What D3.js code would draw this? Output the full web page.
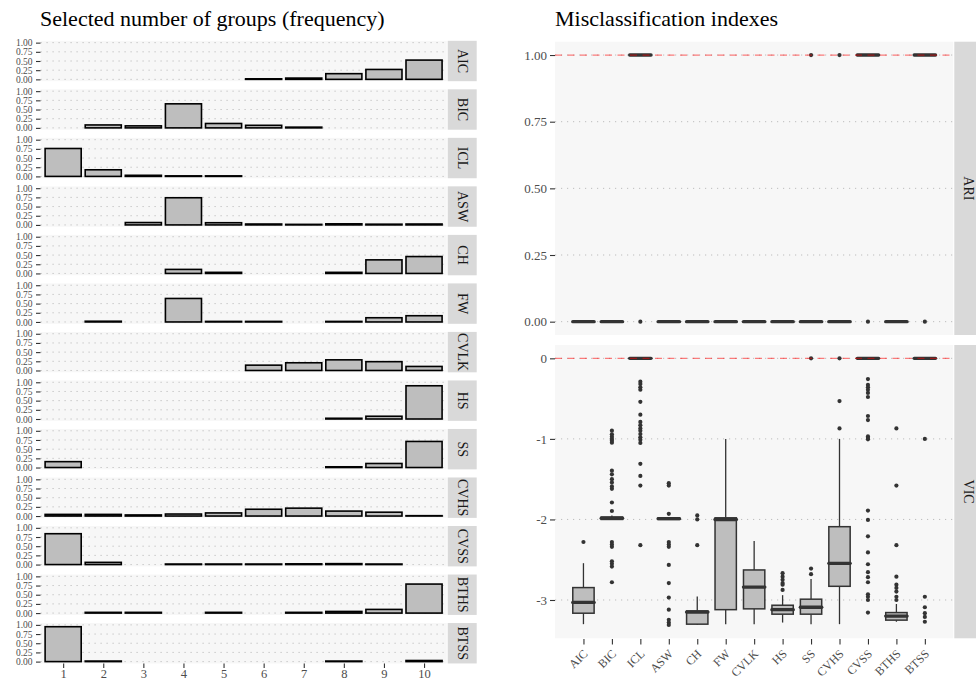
<!DOCTYPE html>
<html><head><meta charset="utf-8">
<script src="https://cdn.jsdelivr.net/npm/d3@7"></script>
<style>
body{margin:0;background:#fff;}
svg{display:block;}
text{font-family:"Liberation Serif","Times New Roman",serif;}
</style>
</head><body>
<svg id="c" width="976" height="681" font-family="Liberation Serif, Times New Roman, serif"></svg>
<script>
// ---------------- DATA ----------------
const methods = ["AIC","BIC","ICL","ASW","CH","FW","CVLK","HS","SS","CVHS","CVSS","BTHS","BTSS"];
const groups = ["1","2","3","4","5","6","7","8","9","10"];

// frequency of selected number of groups (null = no bar)
const freqAIC  = [null,null,null,null,null,0.015,0.035,0.155,0.27,0.525];
const freqBIC  = [null,0.08,0.055,0.655,0.12,0.07,0.02,null,null,null];
const freqICL  = [0.76,0.18,0.03,0.015,0.015,null,null,null,null,null];
const freqASW  = [null,null,0.065,0.74,0.06,0.025,0.015,0.03,0.02,0.025];
const freqCH   = [null,null,null,0.11,0.03,null,null,0.03,0.37,0.46];
const freqFW   = [null,0.02,null,0.64,0.015,0.015,null,0.015,0.115,0.17];
const freqCVLK = [null,null,null,null,null,0.145,0.21,0.29,0.24,0.11];
const freqHS   = [null,null,null,null,null,null,null,0.02,0.075,0.905];
const freqSS   = [0.16,null,null,null,null,null,null,0.02,0.11,0.71];
const freqCVHS = [0.045,0.045,0.03,0.055,0.085,0.185,0.215,0.135,0.105,0.01];
const freqCVSS = [0.84,0.06,null,0.015,0.015,0.015,0.02,0.025,0.015,null];
const freqBTHS = [null,0.02,0.02,null,0.02,null,0.02,0.045,0.1,0.79];
const freqBTSS = [0.95,0.015,null,null,null,null,null,0.015,null,0.03];

// ARI boxplot statistics
const ariLow  = [0,0,1,0,0,0,0,0,0,0,1,0,1];
const ariQ1   = [0,0,1,0,0,0,0,0,0,0,1,0,1];
const ariMed  = [0,0,1,0,0,0,0,0,0,0,1,0,1];
const ariQ3   = [0,0,1,0,0,0,0,0,0,0,1,0,1];
const ariHigh = [0,0,1,0,0,0,0,0,0,0,1,0,1];
const ariOut  = [[],[],[0],[],[],[],[],[],[1],[1],[0],[],[0]];

// VIC boxplot statistics
const vicLow  = [-3.30,-2.00,0,-2.00,-3.31,-3.30,-3.30,-3.28,-3.30,-3.30,0,-3.27,0];
const vicQ1   = [-3.164,-2.00,0,-2.00,-3.30,-3.12,-3.11,-3.176,-3.176,-2.83,0,-3.25,0];
const vicMed  = [-3.03,-1.985,0,-1.99,-3.15,-2.00,-2.84,-3.12,-3.09,-2.545,0,-3.20,0];
const vicQ3   = [-2.846,-1.97,0,-1.98,-3.135,-1.98,-2.627,-3.065,-2.99,-2.09,0,-3.156,0];
const vicHigh = [-2.543,-1.95,0,-1.97,-2.957,-1.00,-2.267,-2.94,-2.74,-1.00,0,-3.05,0];
const vicOut  = [
  [-2.28],
  [-0.898,-0.943,-0.972,-1.0,-1.022,-1.047,-1.394,-1.44,-1.50,-1.54,-1.59,-1.62,-1.79,-1.895,-2.28,-2.31,-2.34,-2.52,-2.55,-2.585,-2.78],
  [-0.29,-0.32,-0.36,-0.39,-0.54,-0.70,-0.79,-0.83,-0.87,-0.90,-0.94,-0.98,-1.01,-1.05,-1.31,-1.46,-1.58,-2.32],
  [-1.55,-1.58,-1.93,-2.28,-2.31,-2.34,-2.565,-2.79,-2.97,-3.12,-3.245,-3.28,-3.31],
  [-1.95,-2.0,-2.32],
  [],
  [],
  [-2.667,-2.71,-2.75,-2.79,-2.81,-2.875],
  [0,-2.61,-2.68],
  [0,-0.53,-0.87],
  [-0.257,-0.33,-0.36,-0.39,-0.43,-0.48,-0.716,-0.766,-0.97,-0.99,-1.005,-1.89,-2.006,-2.21,-2.41,-2.556,-2.655,-2.717,-2.78,-2.93,-2.96,-3.0,-3.156],
  [-0.87,-1.58,-2.32,-2.71,-2.81,-2.85,-2.895,-2.96,-3.0],
  [-1.0,-2.96,-3.09,-3.164,-3.21,-3.27]
];

const freqTicks = [0,0.25,0.5,0.75,1];
const ariTicks = [0,0.25,0.5,0.75,1];
const vicTicks = [0,-1,-2,-3];
const ariRef = 1;
const vicRef = 0;
const titleLeft = "Selected number of groups (frequency)";
const titleRight = "Misclassification indexes";

// ---------------- DRAW ----------------
const FONT = '"Liberation Serif","Times New Roman",serif';
const svg = d3.select("#c");
const freqs = [freqAIC,freqBIC,freqICL,freqASW,freqCH,freqFW,freqCVLK,freqHS,freqSS,freqCVHS,freqCVSS,freqBTHS,freqBTSS];

const PANEL_BG = "#f7f7f7", STRIP_BG = "#d9d9d9", GRID = "#bdbdbd", TICKC = "#4d4d4d";
const BOX_FILL = "#bebebe";

function styleAxis(g, fs){
  g.attr("font-family", null);
  g.select(".domain").remove();
  g.selectAll(".tick line").attr("stroke","#333").attr("stroke-width",1.1);
  g.selectAll(".tick text").attr("fill",TICKC).style("font-size",fs+"px").style("font-family",FONT);
}

// ---- Left: facets ----
const LX0 = 40.5, LX1 = 446.7, LSX = 447.7, SW = 29;
const PTOP = 40.8, PSTEP = 48.52, PH = 40.4;
const xL = d3.scalePoint().domain(groups).range([LX0, LX1]).padding(0.565);
const stepL = xL.step();

svg.append("text").attr("x", 40).attr("y", 26).style("font-size","22px").style("font-family",FONT)
  .attr("fill","#000").text(titleLeft);

methods.forEach((m, i) => {
  const top = PTOP + i*PSTEP;
  const y = d3.scaleLinear().domain([-0.05, 1.05]).range([top+PH, top]);
  const g = svg.append("g");
  g.append("rect").attr("x",LX0).attr("y",top).attr("width",LX1-LX0).attr("height",PH).attr("fill",PANEL_BG);
  g.selectAll("line.grid").data(freqTicks).join("line").attr("class","grid")
    .attr("x1",LX0).attr("x2",LX1).attr("y1",d=>y(d)).attr("y2",d=>y(d))
    .attr("stroke",GRID).attr("stroke-width",1).attr("stroke-dasharray","1.2,4.8");
  const bars = freqs[i].map((v,j)=>({g:groups[j], v})).filter(d=>d.v!=null);
  g.selectAll("rect.bar").data(bars).join("rect").attr("class","bar")
    .attr("x",d=>xL(d.g)-0.45*stepL).attr("width",0.9*stepL)
    .attr("y",d=>y(d.v)).attr("height",d=>y(0)-y(d.v))
    .attr("fill",BOX_FILL).attr("stroke","#000").attr("stroke-width",1.6);
  const ax = g.append("g").attr("transform",`translate(${LX0},0)`)
    .call(d3.axisLeft(y).tickValues(freqTicks).tickFormat(d3.format(".2f")).tickSize(4.5).tickPadding(3.5));
  styleAxis(ax, 9.5);
  g.append("rect").attr("x",LSX).attr("y",top).attr("width",SW).attr("height",PH).attr("fill",STRIP_BG);
  g.append("text").attr("transform",`translate(${LSX+SW/2},${top+PH/2}) rotate(90)`)
    .attr("text-anchor","middle").attr("dominant-baseline","central").style("font-family",FONT)
    .style("font-size","14px").attr("fill","#1a1a1a").text(m);
  if (i === methods.length-1){
    const bx = g.append("g").attr("transform",`translate(0,${top+PH})`)
      .call(d3.axisBottom(xL).tickSize(4.5).tickPadding(1.5));
    styleAxis(bx, 12.5);
  }
});

// ---- Right: boxplots ----
const RX0 = 555, RX1 = 953.3, RSX = 954.3;
svg.append("text").attr("x", 555).attr("y", 26).style("font-size","22px").style("font-family",FONT)
  .attr("fill","#000").text(titleRight);
const xR = d3.scalePoint().domain(methods).range([RX0, RX1]).padding(1);
const bw = 0.75 * xR.step();

function boxPanel(top, bottom, label, low, q1, med, q3, high, outs, ticks, fmt, ref, isBottom){
  const allVals = [].concat(low, high, ...outs);
  const ext = d3.extent(allVals);
  const pad = (ext[1]-ext[0])*0.05;
  const y = d3.scaleLinear().domain([ext[0]-pad, ext[1]+pad]).range([bottom, top]);
  const g = svg.append("g");
  g.append("rect").attr("x",RX0).attr("y",top).attr("width",RX1-RX0).attr("height",bottom-top).attr("fill",PANEL_BG);
  g.selectAll("line.grid").data(ticks).join("line").attr("class","grid")
    .attr("x1",RX0).attr("x2",RX1).attr("y1",d=>y(d)).attr("y2",d=>y(d))
    .attr("stroke",GRID).attr("stroke-width",1).attr("stroke-dasharray","1.2,4.8");
  methods.forEach((m,i)=>{
    const cx = xR(m);
    const bg = g.append("g");
    bg.append("line").attr("x1",cx).attr("x2",cx).attr("y1",y(q3[i])).attr("y2",y(high[i]))
      .attr("stroke","#333").attr("stroke-width",1.3);
    bg.append("line").attr("x1",cx).attr("x2",cx).attr("y1",y(q1[i])).attr("y2",y(low[i]))
      .attr("stroke","#333").attr("stroke-width",1.3);
    bg.append("rect").attr("x",cx-bw/2).attr("width",bw).attr("y",y(q3[i])).attr("height",Math.max(0,y(q1[i])-y(q3[i])))
      .attr("fill",BOX_FILL).attr("stroke","#333").attr("stroke-width",1.5);
    bg.append("line").attr("x1",cx-bw/2).attr("x2",cx+bw/2).attr("y1",y(med[i])).attr("y2",y(med[i]))
      .attr("stroke","#333").attr("stroke-width",3.4).attr("stroke-linecap","round");
    bg.selectAll("circle").data(outs[i]).join("circle")
      .attr("cx",cx).attr("cy",d=>y(d)).attr("r",2.1).attr("fill","#333");
  });
  g.append("line").attr("x1",RX0).attr("x2",RX1).attr("y1",y(ref)).attr("y2",y(ref))
    .attr("stroke","#ff0000").attr("stroke-opacity",0.5).attr("stroke-width",1.3).attr("stroke-dasharray","7,5.5");
  const ax = g.append("g").attr("transform",`translate(${RX0},0)`)
    .call(d3.axisLeft(y).tickValues(ticks).tickFormat(fmt).tickSize(5).tickPadding(3));
  styleAxis(ax, 13);
  g.append("rect").attr("x",RSX).attr("y",top).attr("width",SW).attr("height",bottom-top).attr("fill",STRIP_BG);
  g.append("text").attr("transform",`translate(${RSX+SW/2},${(top+bottom)/2}) rotate(90)`)
    .attr("text-anchor","middle").attr("dominant-baseline","central").style("font-family",FONT)
    .style("font-size","14px").attr("fill","#1a1a1a").text(label);
  if (isBottom){
    const bx = g.append("g").attr("transform",`translate(0,${bottom+0.7})`)
      .call(d3.axisBottom(xR).tickSize(5.5).tickPadding(3));
    styleAxis(bx, 12);
    bx.selectAll(".tick text").attr("x",0).attr("y",0).attr("dy",0)
      .attr("text-anchor","end").attr("transform","translate(4.5,15.5) rotate(-45)");
  }
}

boxPanel(41.7, 335, "ARI", ariLow, ariQ1, ariMed, ariQ3, ariHigh, ariOut, ariTicks, d3.format(".2f"), ariRef, false);
boxPanel(345, 638.3, "VIC", vicLow, vicQ1, vicMed, vicQ3, vicHigh, vicOut, vicTicks, d=>String(d), vicRef, true);
</script>
</body></html>
